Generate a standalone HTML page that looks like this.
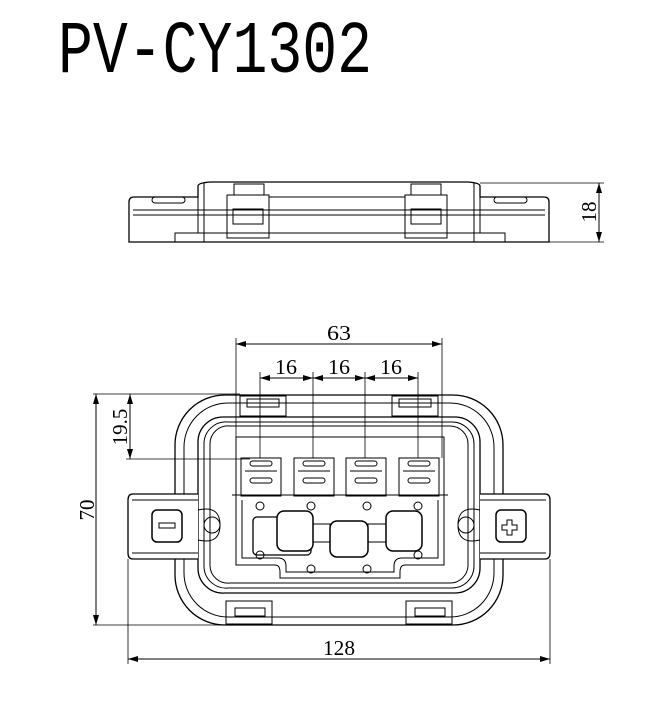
<!DOCTYPE html>
<html><head><meta charset="utf-8"><style>
html,body{margin:0;padding:0;background:#fff;}
svg{display:block}
</style></head><body>
<svg width="649" height="701" viewBox="0 0 649 701" xmlns="http://www.w3.org/2000/svg">
<defs>
<marker id="a" markerWidth="10" markerHeight="6" refX="10" refY="3" orient="auto-start-reverse" markerUnits="userSpaceOnUse">
<path d="M0,0 L10,3 L0,6 Z" fill="#000"/></marker>
</defs>
<text x="58" y="72" font-family="Liberation Mono, monospace" font-size="74" textLength="314" lengthAdjust="spacingAndGlyphs" fill="#000">PV-CY1302</text>

<g fill="none" stroke="#000" stroke-width="1">
<!-- Top view -->
<path d="M129,242 V202 Q129,197 134,197 H198 V186 Q198,183 210,182 H468 Q480,183 480,186 V197 H544 Q549,197 549,202 V242 Z" stroke-width="1.3"/>
<line x1="133" y1="210" x2="545" y2="210"/>
<line x1="133" y1="215" x2="545" y2="215"/>
<path d="M175,242 V233 H505 V242"/>
<line x1="198" y1="197" x2="198" y2="233"/>
<line x1="480" y1="197" x2="480" y2="233"/>
<line x1="204" y1="183" x2="204" y2="242"/>
<line x1="474" y1="183" x2="474" y2="242"/>
<rect x="227" y="195" width="42" height="43"/>
<rect x="405" y="195" width="42" height="43"/>
<rect x="234" y="184" width="30" height="11"/>
<rect x="411" y="184" width="30" height="11"/>
<rect x="233" y="209" width="30" height="15"/>
<rect x="411" y="209" width="30" height="15"/>
<line x1="269" y1="197" x2="405" y2="197"/>
<rect x="152" y="197" width="33" height="6" rx="3"/>
<rect x="494" y="197" width="33" height="6" rx="3"/>
<!-- 18 dim -->
<line x1="480" y1="183" x2="604" y2="183" stroke-width="0.7"/>
<line x1="549" y1="242" x2="604" y2="242" stroke-width="0.7"/>
<line x1="599" y1="183" x2="599" y2="242" marker-start="url(#a)" marker-end="url(#a)"/>

<!-- Front view -->
<path d="M225,395 H453 A50,50 0 0 1 503,445 V575 A50,50 0 0 1 453,625 H225 A50,50 0 0 1 175,575 V445 A50,50 0 0 1 225,395 Z" stroke-width="1.3"/>
<path d="M228,403 H450 A44,44 0 0 1 494,447 V573 A44,44 0 0 1 450,617 H228 A44,44 0 0 1 184,573 V447 A44,44 0 0 1 228,403 Z"/>
<path d="M225,417 H455 A25,25 0 0 1 480,442 V568 A25,25 0 0 1 455,593 H225 A25,25 0 0 1 198,568 V442 A25,25 0 0 1 223,417 Z" stroke-width="1.3"/>
<path d="M228,422 H452 A22,22 0 0 1 474,444 V566 A22,22 0 0 1 452,588 H228 A22,22 0 0 1 204,566 V444 A22,22 0 0 1 228,422 Z"/>
<path d="M230,426 H450 A18,18 0 0 1 468,444 V566 A18,18 0 0 1 450,583 H230 A18,18 0 0 1 210,566 V444 A18,18 0 0 1 230,426 Z"/>
<!-- upper compartment -->
<path d="M236,437 H444 V495 H236 Z"/>
<path d="M232,495 H448"/>
<!-- terminals -->
<g>
<rect x="241" y="458" width="40" height="38"/><rect x="250" y="461" width="22" height="5" rx="2.5"/><rect x="250" y="478" width="22" height="5" rx="2.5"/><line x1="245" y1="471" x2="277" y2="471"/>
<rect x="294" y="458" width="40" height="38"/><rect x="303" y="461" width="22" height="5" rx="2.5"/><rect x="303" y="478" width="22" height="5" rx="2.5"/><line x1="298" y1="471" x2="330" y2="471"/>
<rect x="346" y="458" width="40" height="38"/><rect x="355" y="461" width="22" height="5" rx="2.5"/><rect x="355" y="478" width="22" height="5" rx="2.5"/><line x1="350" y1="471" x2="382" y2="471"/>
<rect x="399" y="458" width="40" height="38"/><rect x="408" y="461" width="22" height="5" rx="2.5"/><rect x="408" y="478" width="22" height="5" rx="2.5"/><line x1="403" y1="471" x2="435" y2="471"/>
</g>
<!-- lower plate -->
<path d="M236,495 V565 H275 Q280,565 280,572 V578 H400 V572 Q400,565 405,565 H444 V495"/>
<path d="M242,500 V558 H278 Q286,558 286,566 V572 H394 V566 Q394,558 402,558 H438 V500"/>
<!-- diodes -->
<rect x="253" y="517" width="58" height="38" rx="4" stroke-width="1.3"/>
<rect x="277" y="511" width="36" height="40" rx="7" fill="#fff" stroke-width="1.5"/>
<rect x="330" y="521" width="38" height="36" rx="7" fill="#fff" stroke-width="1.5"/>
<rect x="386" y="511" width="36" height="40" rx="7" fill="#fff" stroke-width="1.5"/>
<rect x="313" y="524" width="17" height="18"/>
<rect x="368" y="524" width="18" height="18"/>
<circle cx="260" cy="506" r="4"/><circle cx="311" cy="506" r="4"/><circle cx="367" cy="506" r="4"/><circle cx="418" cy="506" r="4"/>
<circle cx="260" cy="555" r="4"/><circle cx="418" cy="555" r="4"/><circle cx="311" cy="569" r="4"/><circle cx="367" cy="569" r="4"/>
<!-- side tabs -->
<path d="M198,494 H133 Q128,494 128,500 V553 Q128,559 133,559 H198" stroke-width="1.3" fill="#fff"/>
<path d="M480,494 H545 Q550,494 550,500 V553 Q550,559 545,559 H480" stroke-width="1.3" fill="#fff"/>
<line x1="132" y1="500" x2="198" y2="500"/><line x1="132" y1="553" x2="198" y2="553"/>
<line x1="480" y1="500" x2="546" y2="500"/><line x1="480" y1="553" x2="546" y2="553"/>
<rect x="152" y="510" width="30" height="32" rx="5" stroke-width="1.5"/>
<rect x="496" y="510" width="30" height="32" rx="5" stroke-width="1.5"/>
<rect x="159" y="523" width="16" height="5"/>
<path d="M507,520 h5 v5 h5 v5 h-5 v5 h-5 v-5 h-5 v-5 h5 z"/>
<circle cx="212" cy="525" r="8"/><circle cx="466" cy="525" r="8"/>
<path d="M198,510 Q220,505 220,525 Q220,545 198,540"/>
<path d="M480,510 Q458,505 458,525 Q458,545 480,540"/>
<!-- latches top/bottom -->
<rect x="240" y="396" width="46" height="20"/><rect x="247" y="399" width="32" height="8"/>
<rect x="392" y="396" width="46" height="20"/><rect x="399" y="399" width="32" height="8"/>
<rect x="226" y="601" width="46" height="23"/><rect x="235" y="608" width="30" height="8"/>
<rect x="406" y="601" width="46" height="23"/><rect x="415" y="608" width="30" height="8"/>

<!-- dimensions -->
<g stroke-width="0.8">
<line x1="236" y1="338" x2="236" y2="458"/>
<line x1="442" y1="338" x2="442" y2="458"/>
<line x1="260" y1="372" x2="260" y2="458"/>
<line x1="313" y1="372" x2="313" y2="458"/>
<line x1="365" y1="372" x2="365" y2="458"/>
<line x1="418" y1="372" x2="418" y2="458"/>
<line x1="93" y1="394" x2="240" y2="394"/>
<line x1="126" y1="459" x2="250" y2="459"/>
<line x1="93" y1="625" x2="230" y2="625"/>
<line x1="128" y1="559" x2="128" y2="664"/>
<line x1="550" y1="559" x2="550" y2="664"/>
</g>
<line x1="236" y1="344" x2="442" y2="344" marker-start="url(#a)" marker-end="url(#a)"/>
<line x1="260" y1="378" x2="313" y2="378" marker-start="url(#a)" marker-end="url(#a)"/>
<line x1="313" y1="378" x2="365" y2="378" marker-start="url(#a)" marker-end="url(#a)"/>
<line x1="365" y1="378" x2="418" y2="378" marker-start="url(#a)" marker-end="url(#a)"/>
<line x1="96" y1="394" x2="96" y2="625" marker-start="url(#a)" marker-end="url(#a)"/>
<line x1="130" y1="394" x2="130" y2="459" marker-start="url(#a)" marker-end="url(#a)"/>
<line x1="128" y1="659" x2="550" y2="659" marker-start="url(#a)" marker-end="url(#a)"/>
</g>
<g font-family="Liberation Serif, serif" font-size="21" fill="#000" text-anchor="middle">
<text x="339" y="340" textLength="24" lengthAdjust="spacingAndGlyphs">63</text>
<text x="286" y="374" textLength="22" lengthAdjust="spacingAndGlyphs">16</text>
<text x="339" y="374" textLength="22" lengthAdjust="spacingAndGlyphs">16</text>
<text x="391" y="374" textLength="22" lengthAdjust="spacingAndGlyphs">16</text>
<text x="339" y="655" textLength="32" lengthAdjust="spacingAndGlyphs">128</text>
<text transform="translate(94,510) rotate(-90)">70</text>
<text transform="translate(127,427) rotate(-90)">19.5</text>
<text transform="translate(596,212) rotate(-90)">18</text>
</g>
</svg>
</body></html>
